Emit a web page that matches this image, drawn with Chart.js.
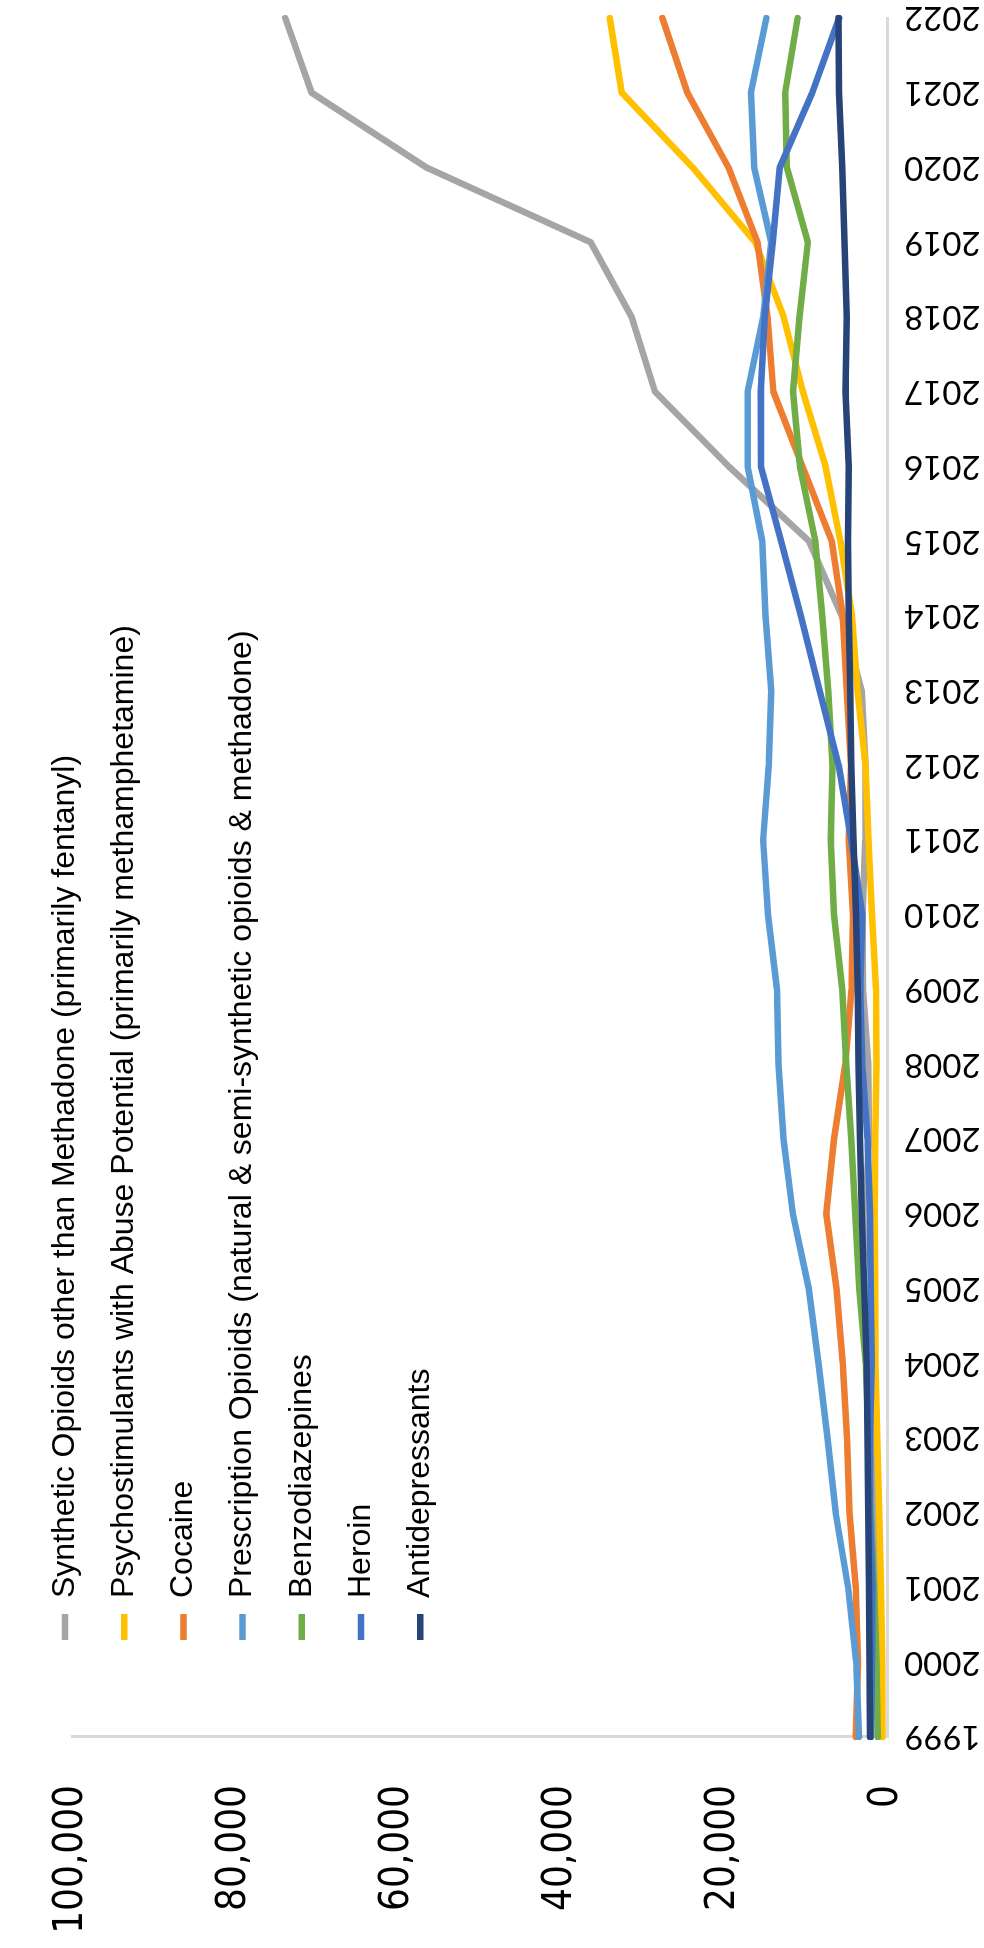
<!DOCTYPE html>
<html>
<head>
<meta charset="utf-8">
<script src="https://cdn.jsdelivr.net/npm/chart.js@4.4.0/dist/chart.umd.min.js"></script>
<style>
  html, body { margin: 0; padding: 0; background: #fff; overflow: hidden; width: 984px; height: 1948px; }
  /* the chart is laid out landscape and turned a quarter turn counter-clockwise */
  #frame {
    position: absolute; left: 0; top: 0;
    width: 1948px; height: 984px;
    transform-origin: 0 0;
    transform: translateY(1948px) rotate(-90deg);
    background: #fff;
  }
  canvas { display: block; }
</style>
</head>
<body>
<div id="frame"><canvas id="chart" width="1948" height="984"></canvas></div>
<script>
// Overdose deaths by drug category, 1999-2022
const years = ['1999','2000','2001','2002','2003','2004','2005','2006','2007','2008','2009','2010',
               '2011','2012','2013','2014','2015','2016','2017','2018','2019','2020','2021','2022'];

const syntheticOpioids    = [730, 782, 957, 1295, 1400, 1664, 1742, 2707, 2213, 2306, 2946, 3007,
                             2666, 2628, 3105, 5544, 9580, 19413, 28466, 31335, 36359, 56516, 70601, 73838];
const psychostimulants    = [547, 578, 739, 954, 1200, 1400, 1450, 1500, 1450, 1302, 1350, 1854,
                             2266, 2635, 3627, 4298, 5716, 7542, 10333, 12676, 16167, 23837, 32537, 34022];
const cocaine             = [3822, 3544, 3833, 4599, 4918, 5443, 6200, 7448, 6512, 5129, 4350, 4183,
                             4681, 4404, 4944, 5415, 6784, 10375, 13942, 14666, 15883, 19447, 24486, 27569];
const prescriptionOpioids = [3442, 3785, 4770, 6300, 7300, 8400, 9600, 11550, 12700, 13300, 13500, 14600,
                             15200, 14500, 14200, 14900, 15300, 17100, 17100, 15200, 14200, 16300, 16700, 14800];
const benzodiazepines     = [1135, 1298, 1594, 2000, 2250, 2600, 3400, 3900, 4400, 5000, 5500, 6500,
                             6900, 6700, 7200, 7945, 8791, 10684, 11537, 10724, 9711, 12290, 12499, 10964];
const heroin              = [1960, 1842, 1779, 2089, 2080, 1878, 2009, 2088, 2399, 3041, 3278, 3036,
                             4397, 5925, 8257, 10574, 12989, 15469, 15482, 14996, 14019, 13165, 9173, 5871];
const antidepressants     = [2100, 2150, 2200, 2300, 2400, 2500, 2800, 3100, 3300, 3500, 3600, 3800,
                             4100, 4400, 4500, 4700, 4800, 4700, 5100, 4950, 5200, 5500, 5900, 5950];

const valueTicks = [0, 20000, 40000, 60000, 80000, 100000];

const series = [
  { label: 'Synthetic Opioids other than Methadone (primarily fentanyl)', data: syntheticOpioids, color: '#A5A5A5' },
  { label: 'Psychostimulants with Abuse Potential (primarily methamphetamine)', data: psychostimulants, color: '#FFC000' },
  { label: 'Cocaine', data: cocaine, color: '#ED7D31' },
  { label: 'Prescription Opioids (natural & semi-synthetic opioids & methadone)', data: prescriptionOpioids, color: '#5B9BD5' },
  { label: 'Benzodiazepines', data: benzodiazepines, color: '#70AD47' },
  { label: 'Heroin', data: heroin, color: '#4472C4' },
  { label: 'Antidepressants', data: antidepressants, color: '#264478' }
];

// later series paint over earlier ones; the legend is flipped back to list order
const datasets = series.map(s => ({
  label: s.label,
  data: s.data,
  borderColor: s.color,
  backgroundColor: s.color,
  borderWidth: 6.5,
  pointRadius: 0,
  pointHoverRadius: 0,
  tension: 0,
  fill: false,
  borderJoinStyle: 'round',
  borderCapStyle: 'round',
  pointStyle: 'line'
})).reverse();

const condensedFont = "'DejaVu Sans Condensed', 'Liberation Sans Narrow', sans-serif";

// legend sits inside the plot, a little in from the value axis
const LEGEND_FONT = 32;
const LEGEND_PAD = 27.2;
const LEGEND_MARK_W = 26;
const LEGEND_TEXT_X = 350;
const LEGEND_FIRST_ROW = 65;

const legendPlacement = {
  id: 'legendPlacement',
  afterLayout(chart) {
    const lg = chart.legend;
    if (!lg) return;
    const markX = LEGEND_TEXT_X - LEGEND_FONT / 2 - LEGEND_MARK_W;
    const dx = (markX - LEGEND_PAD) - lg.left;
    const dy = (LEGEND_FIRST_ROW - LEGEND_PAD - LEGEND_FONT / 2) - lg.top;
    lg.left += dx; lg.right += dx;
    lg.top += dy; lg.bottom += dy;
  }
};

const whiteBackground = {
  id: 'whiteBackground',
  beforeDraw(chart) {
    const c = chart.ctx;
    c.save();
    c.fillStyle = '#ffffff';
    c.fillRect(0, 0, chart.width, chart.height);
    c.restore();
  }
};

Chart.defaults.color = '#000';

new Chart(document.getElementById('chart'), {
  type: 'line',
  data: { labels: years, datasets },
  plugins: [whiteBackground, legendPlacement],
  options: {
    responsive: false,
    animation: false,
    devicePixelRatio: 1,
    layout: { padding: { left: 0, top: 33, right: 18, bottom: 0 } },
    plugins: {
      tooltip: { enabled: false },
      legend: {
        position: 'chartArea',
        align: 'start',
        reverse: true,
        labels: {
          usePointStyle: true,
          pointStyle: 'line',
          pointStyleWidth: LEGEND_MARK_W,
          padding: LEGEND_PAD,
          color: '#000',
          font: { family: "'Liberation Sans', Arial, sans-serif", size: LEGEND_FONT }
        }
      }
    },
    scales: {
      x: {
        type: 'category',
        offset: false,
        grid: { display: false, drawTicks: false, tickLength: 0 },
        border: { display: true, color: '#D9D9D9', width: 3 },
        ticks: {
          autoSkip: false,
          minRotation: 90,
          maxRotation: 90,
          padding: 17,
          color: '#000',
          font: { family: "Lato, 'Open Sans', sans-serif", size: 33 }
        },
        afterFit(scale) {
          scale.height = 97;
          scale.paddingLeft = 0;
          scale.paddingRight = 0;
        }
      },
      y: {
        min: 0,
        max: 100000,
        grid: { display: false, drawTicks: false, tickLength: 0 },
        border: { display: true, color: '#D9D9D9', width: 3 },
        afterBuildTicks(scale) {
          scale.ticks = valueTicks.map(v => ({ value: v }));
        },
        ticks: {
          padding: 48,
          color: '#000',
          font: { family: condensedFont, size: 40 },
          callback: v => Number(v).toLocaleString('en-US')
        },
        afterFit(scale) {
          scale.width = 211;
        }
      }
    }
  }
});
</script>
</body>
</html>
